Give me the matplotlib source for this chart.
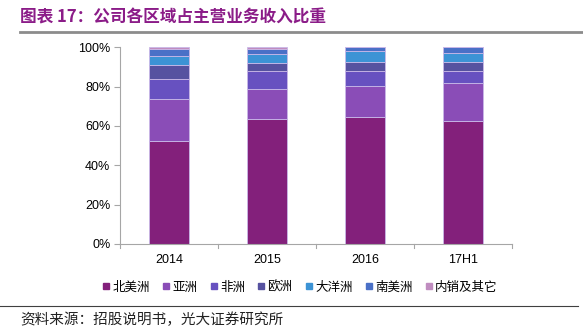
import matplotlib
matplotlib.use("Agg")
import matplotlib.pyplot as plt
import numpy as np
from matplotlib.lines import Line2D

plt.rcParams['font.family'] = ['Noto Sans CJK SC', 'DejaVu Sans']

# ===============================
#  data (share of main revenue, %)
# ===============================
periods = ["2014", "2015", "2016", "17H1"]
regions = ["北美洲", "亚洲", "非洲", "欧洲", "大洋洲", "南美洲", "内销及其它"]

north_america = [52.4, 63.5, 64.7, 62.7]
asia = [21.2, 15.1, 15.8, 19.0]
africa = [10.4, 9.2, 7.6, 6.1]
europe = [7.0, 4.4, 4.6, 4.9]
oceania = [4.7, 4.2, 5.3, 4.4]
south_america = [3.3, 2.7, 2.0, 2.9]
domestic_other = [1.0, 0.9, 0.0, 0.0]

series = [north_america, asia, africa, europe, oceania, south_america, domestic_other]
colors = ["#83207B", "#8A4DB7", "#6751C0", "#5652A0", "#3C93D5", "#4A70C7", "#C08DC0"]

# ===============================
#  figure
# ===============================
fig = plt.figure(figsize=(5.83, 3.32), dpi=100)
ax = fig.add_axes([120 / 583, 1 - 244 / 332, 392 / 583, 196.7 / 332])

x = np.arange(len(periods))
bottom = np.zeros(len(periods))
for name, vals, c in zip(regions, series, colors):
    vals = np.array(vals)
    ax.bar(x, vals, width=0.4, bottom=bottom, color=c, edgecolor="#C9B8E8",
           linewidth=0.6, label=name, zorder=2)
    bottom += vals

ax.set_xlim(-0.5, 3.5)
ax.set_ylim(0, 100)
ax.set_yticks(range(0, 101, 20))
ax.set_yticklabels([f"{v}%" for v in range(0, 101, 20)], family="Liberation Sans", fontsize=9)
ax.set_xticks(x)
ax.set_xticklabels(periods, family="Liberation Sans", fontsize=9)
ax.tick_params(axis="x", length=0, pad=7)
ax.tick_params(axis="y", length=4, color="#A6A6A6", pad=3)

# category separator ticks on x axis
for b in np.arange(-0.5, 3.6, 1.0):
    ax.plot([b, b], [0, -2.2], color="#A6A6A6", lw=0.8, clip_on=False)

for s in ["top", "right"]:
    ax.spines[s].set_visible(False)
ax.spines["left"].set_color("#A6A6A6")
ax.spines["bottom"].set_color("#A6A6A6")

handles = [Line2D([], [], marker="s", linestyle="", color=c, markersize=5) for c in colors]
fig.legend(handles, regions, loc="center", bbox_to_anchor=(300 / 583, 1 - 287 / 332),
           ncol=7, frameon=False, fontsize=9, handlelength=0.6, handletextpad=0.2,
           columnspacing=1.0)

# title and source
fig.text(20 / 583, 1 - 17 / 332, "图表 17：公司各区域占主营业务收入比重", fontsize=12,
         fontweight="bold", color="#8B1C88", va="center", ha="left")
fig.add_artist(Line2D([20 / 583, 1], [1 - 32 / 332, 1 - 32 / 332], color="#8C8C8C", lw=2))
fig.add_artist(Line2D([0, 578 / 583], [1 - 306 / 332, 1 - 306 / 332], color="#404040", lw=0.8))
fig.text(20 / 583, 1 - 320 / 332, "资料来源：招股说明书，光大证券研究所", fontsize=10.5,
         color="#222222", va="center", ha="left")

fig.savefig("out.png", dpi=100)
